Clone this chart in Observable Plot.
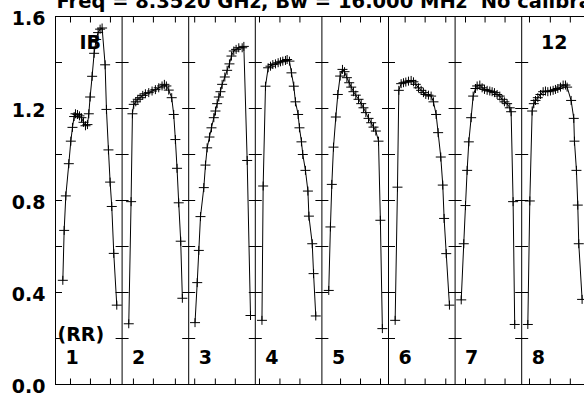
<!DOCTYPE html>
<html><head><meta charset="utf-8">
<script src="https://cdn.jsdelivr.net/npm/d3@7"></script>
<script src="https://cdn.jsdelivr.net/npm/@observablehq/plot@0.6"></script>
<style>html,body{margin:0;padding:0;background:#fff;} svg{display:block;}</style>
</head><body><div id="chart"></div>
<script>
const titleText = "Freq = 8.3520 GHz, Bw = 16.000 MHz\u00a0\u00a0No calibration";
const scanNumbers = ["1","2","3","4","5","6","7","8"];
const baselineLabel = "IB";
const stationLabel = "12";
const polLabel = "(RR)";
const yLabelTicks = [0, 0.4, 0.8, 1.2, 1.6];
const yMinorTicks = [0.2, 0.4, 0.6, 0.8, 1.0, 1.2, 1.4];
const sepTickValues = [0.2, 0.4, 0.6, 0.8, 1.0, 1.2, 1.4, 1.6];
const timeTicks = [
  [0.225, 0.525, 0.825], [0.17, 0.47, 0.80], [0.09, 0.40, 0.70], [0.063, 0.37, 0.67],
  [0.28, 0.58, 0.88], [0.25, 0.55, 0.86], [0.156, 0.45, 0.75], [0.117, 0.43, 0.73]
];

const scan1Pos = [0.11,0.13,0.155,0.20,0.23,0.255,0.28,0.30,0.33,0.36,0.39,0.42,0.45,0.48,0.50,0.52,0.55,0.58,0.61,0.64,0.67,0.70,0.745,0.765,0.795,0.82,0.845,0.875,0.92];
const scan1Amp = [0.453,0.67,0.82,0.96,1.058,1.118,1.165,1.177,1.174,1.168,1.16,1.14,1.125,1.13,1.177,1.25,1.34,1.44,1.50,1.53,1.545,1.55,1.39,1.196,1.02,0.88,0.774,0.57,0.345];
const scan2Pos = [0.10,0.135,0.155,0.175,0.205,0.235,0.27,0.31,0.35,0.40,0.45,0.50,0.55,0.60,0.635,0.665,0.70,0.745,0.775,0.80,0.825,0.85,0.88,0.905];
const scan2Amp = [0.264,0.795,1.177,1.218,1.229,1.24,1.247,1.257,1.264,1.269,1.276,1.282,1.29,1.298,1.305,1.298,1.28,1.247,1.174,1.065,0.94,0.79,0.623,0.375];
const scan3Pos = [0.095,0.128,0.152,0.177,0.227,0.252,0.277,0.312,0.342,0.377,0.402,0.427,0.452,0.477,0.502,0.542,0.577,0.612,0.642,0.677,0.712,0.752,0.803,0.828,0.878,0.928];
const scan3Amp = [0.269,0.443,0.583,0.73,0.856,0.954,1.029,1.076,1.116,1.16,1.189,1.221,1.25,1.273,1.305,1.337,1.366,1.394,1.428,1.45,1.457,1.464,1.464,1.47,0.974,0.30];
const scan4Pos = [0.10,0.118,0.153,0.193,0.228,0.263,0.303,0.343,0.378,0.413,0.453,0.478,0.513,0.543,0.578,0.603,0.643,0.663,0.693,0.713,0.753,0.79,0.805,0.855,0.875,0.908];
const scan4Amp = [0.279,0.863,1.297,1.377,1.384,1.391,1.394,1.399,1.403,1.406,1.409,1.413,1.406,1.355,1.297,1.229,1.174,1.116,1.055,1.0,0.931,0.841,0.732,0.612,0.482,0.298];
const scan5Pos = [0.103,0.128,0.149,0.174,0.209,0.239,0.274,0.309,0.34,0.375,0.41,0.44,0.474,0.509,0.55,0.59,0.624,0.66,0.70,0.74,0.775,0.81,0.85,0.878,0.908];
const scan5Amp = [0.409,0.685,0.87,1.032,1.163,1.261,1.341,1.37,1.36,1.334,1.312,1.293,1.273,1.258,1.24,1.221,1.203,1.182,1.157,1.138,1.119,1.102,1.058,0.714,0.243];
const scan6Pos = [0.10,0.135,0.155,0.19,0.225,0.26,0.30,0.34,0.375,0.41,0.45,0.49,0.525,0.56,0.60,0.64,0.675,0.715,0.745,0.785,0.815,0.835,0.867,0.915];
const scan6Amp = [0.279,0.858,1.279,1.308,1.312,1.315,1.319,1.322,1.316,1.305,1.29,1.279,1.269,1.261,1.258,1.254,1.229,1.174,1.095,0.989,0.867,0.722,0.569,0.345];
const scan7Pos = [0.092,0.13,0.156,0.181,0.206,0.241,0.271,0.306,0.331,0.371,0.406,0.441,0.481,0.521,0.556,0.591,0.631,0.671,0.706,0.741,0.781,0.821,0.841,0.871,0.895];
const scan7Amp = [0.368,0.612,0.778,0.931,1.055,1.16,1.254,1.287,1.298,1.302,1.29,1.283,1.279,1.276,1.273,1.269,1.261,1.254,1.24,1.229,1.221,1.203,1.186,0.795,0.261];
const scan8Pos = [0.092,0.122,0.157,0.182,0.207,0.242,0.282,0.322,0.357,0.392,0.432,0.472,0.507,0.542,0.582,0.622,0.657,0.682,0.742,0.782,0.792,0.822,0.842,0.857,0.907];
const scan8Amp = [0.261,0.798,1.189,1.221,1.235,1.247,1.261,1.273,1.276,1.273,1.276,1.279,1.283,1.287,1.293,1.302,1.302,1.293,1.235,1.157,1.058,0.931,0.78,0.612,0.37];

const scanPos = [scan1Pos, scan2Pos, scan3Pos, scan4Pos, scan5Pos, scan6Pos, scan7Pos, scan8Pos];
const scanAmp = [scan1Amp, scan2Amp, scan3Amp, scan4Amp, scan5Amp, scan6Amp, scan7Amp, scan8Amp];

const rows = [];
scanPos.forEach((pos, i) => pos.forEach((p, j) => rows.push({scan: i, t: i + p, amp: scanAmp[i][j]})));
const separators = d3.range(1, scanNumbers.length);
const sepTicks = [];
separators.forEach(s => sepTickValues.forEach(v => sepTicks.push({x: s, y: v})));
const tTicks = [];
timeTicks.forEach((ts, i) => ts.forEach(t => tTicks.push(i + t)));

function segSymbol(x0, y0, x1, y1) {
  return {draw(ctx) { ctx.moveTo(x0, y0); ctx.lineTo(x1, y1); }};
}
const plusSymbol = {draw(ctx) { ctx.moveTo(-5, 0); ctx.lineTo(5, 0); ctx.moveTo(0, -4.5); ctx.lineTo(0, 4.5); }};
const dashBoth = segSymbol(-6.5, 0, 6.5, 0);
const dashRight = segSymbol(0, 0, 6.5, 0);
const tickUp = segSymbol(0, 0, 0, -6);
const tickDown = segSymbol(0, 0, 0, 6);

const font = {fontFamily: "DejaVu Sans", fontWeight: "bold", fill: "black"};
const W = 584, H = 397, ML = 55, MT = 16, MB = 13, panelW = 66.6;

const chart = Plot.plot({
  width: W, height: H,
  marginLeft: ML, marginRight: 0, marginTop: MT, marginBottom: MB,
  style: {background: "white", fontFamily: "DejaVu Sans", overflow: "visible"},
  x: {domain: [0, (W - ML) / panelW], axis: null},
  y: {domain: [0, 1.6]},
  marks: [
    Plot.ruleX([0], {stroke: "black", strokeWidth: 1}),
    Plot.ruleY([0, 1.6], {stroke: "black", strokeWidth: 1}),
    Plot.ruleX(separators, {stroke: "black", strokeWidth: 1}),
    Plot.dot(sepTicks, {x: "x", y: "y", symbol: dashBoth, stroke: "black", fill: "none", strokeWidth: 1}),
    Plot.dot(yMinorTicks, {x: () => 0, y: d => d, symbol: dashRight, stroke: "black", fill: "none", strokeWidth: 1}),
    Plot.dot(tTicks, {x: d => d, y: () => 0, symbol: tickUp, stroke: "black", fill: "none", strokeWidth: 1}),
    Plot.dot(tTicks, {x: d => d, y: () => 1.6, symbol: tickDown, stroke: "black", fill: "none", strokeWidth: 1}),
    Plot.line(rows, {x: "t", y: "amp", z: "scan", stroke: "black", strokeWidth: 1}),
    Plot.dot(rows, {x: "t", y: "amp", symbol: plusSymbol, stroke: "black", fill: "none", strokeWidth: 1}),
    Plot.axisY(yLabelTicks, {tickSize: 0, tickPadding: 10, tickFormat: d => d.toFixed(1), fontSize: 19, ...font, dy: 2, label: null}),
    Plot.text(scanNumbers, {x: (d, i) => i, text: d => d, frameAnchor: "bottom", dx: 10, dy: -21, textAnchor: "start", lineAnchor: "bottom", fontSize: 19, ...font}),
    Plot.text([polLabel], {text: d => d, frameAnchor: "bottom-left", dx: 2, dy: -44, textAnchor: "start", lineAnchor: "bottom", fontSize: 19, ...font}),
    Plot.text([baselineLabel], {text: d => d, frameAnchor: "top-left", dx: 24, dy: 32, textAnchor: "start", lineAnchor: "bottom", fontSize: 19, ...font}),
    Plot.text([stationLabel], {text: d => d, frameAnchor: "top-right", dx: -17, dy: 32, textAnchor: "end", lineAnchor: "bottom", fontSize: 19, ...font}),
    Plot.text([titleText], {text: d => d, frameAnchor: "top-left", dx: 1, dy: -8.5, textAnchor: "start", lineAnchor: "bottom", fontSize: 19.5, ...font})
  ]
});
document.getElementById("chart").append(chart);
</script>
</body></html>
